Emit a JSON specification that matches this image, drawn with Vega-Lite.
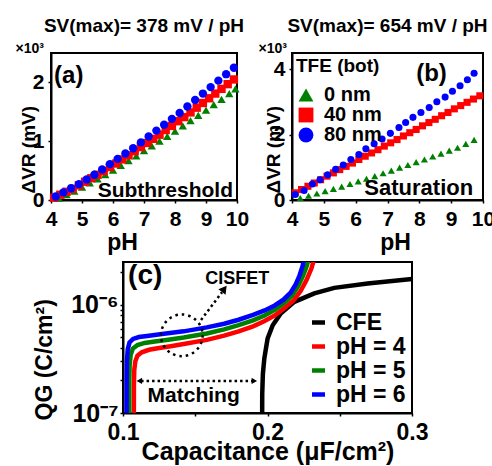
{
"$schema": "https://vega.github.io/schema/vega-lite/v6.json",
"autosize": {"type": "pad"},
"padding": {"left": 14, "top": 16, "right": 0, "bottom": 0},
"config": {
 "font": "Liberation Sans",
 "view": {"stroke": "#000", "strokeWidth": 2},
 "axis": {"grid": false, "domainColor": "#000", "domainWidth": 2, "tickColor": "#000", "tickWidth": 1.5, "tickSize": 3, "labelColor": "#000", "labelFont": "Liberation Sans", "labelFontWeight": "bold", "labelFontSize": 21, "labelOverlap": false, "labelFlush": false, "titleColor": "#000", "titleFont": "Liberation Sans", "titleFontWeight": "bold", "labelPadding": 4},
 "title": {"font": "Liberation Sans", "fontWeight": "bold", "fontSize": 19, "color": "#000", "frame": "group", "anchor": "middle"},
 "legend": {"labelFont": "Liberation Sans", "labelFontWeight": "bold", "labelColor": "#000", "titleFont": "Liberation Sans", "titleFontWeight": "bold", "titleColor": "#000"},
 "text": {"font": "Liberation Sans", "fontWeight": "bold", "color": "#000"}
},
"datasets": {
 "pa": [
  {"t":"0 nm","pH":4.25,"dv":0.03},{"t":"0 nm","pH":4.5,"dv":0.09},{"t":"0 nm","pH":4.75,"dv":0.15},{"t":"0 nm","pH":5.0,"dv":0.22},{"t":"0 nm","pH":5.25,"dv":0.29},{"t":"0 nm","pH":5.5,"dv":0.36},{"t":"0 nm","pH":5.75,"dv":0.43},{"t":"0 nm","pH":6.0,"dv":0.51},{"t":"0 nm","pH":6.25,"dv":0.59},{"t":"0 nm","pH":6.5,"dv":0.67},{"t":"0 nm","pH":6.75,"dv":0.75},{"t":"0 nm","pH":7.0,"dv":0.84},{"t":"0 nm","pH":7.25,"dv":0.92},{"t":"0 nm","pH":7.5,"dv":1.0},{"t":"0 nm","pH":7.75,"dv":1.08},{"t":"0 nm","pH":8.0,"dv":1.17},{"t":"0 nm","pH":8.25,"dv":1.26},{"t":"0 nm","pH":8.5,"dv":1.35},{"t":"0 nm","pH":8.75,"dv":1.44},{"t":"0 nm","pH":9.0,"dv":1.53},{"t":"0 nm","pH":9.25,"dv":1.62},{"t":"0 nm","pH":9.5,"dv":1.71},{"t":"0 nm","pH":9.75,"dv":1.81},{"t":"0 nm","pH":9.95,"dv":1.89},
  {"t":"40 nm","pH":4.1,"dv":0.04},{"t":"40 nm","pH":4.3,"dv":0.09},{"t":"40 nm","pH":4.5,"dv":0.14},{"t":"40 nm","pH":4.7,"dv":0.19},{"t":"40 nm","pH":4.9,"dv":0.25},{"t":"40 nm","pH":5.1,"dv":0.31},{"t":"40 nm","pH":5.3,"dv":0.37},{"t":"40 nm","pH":5.5,"dv":0.43},{"t":"40 nm","pH":5.7,"dv":0.49},{"t":"40 nm","pH":5.9,"dv":0.56},{"t":"40 nm","pH":6.1,"dv":0.62},{"t":"40 nm","pH":6.3,"dv":0.69},{"t":"40 nm","pH":6.5,"dv":0.76},{"t":"40 nm","pH":6.7,"dv":0.83},{"t":"40 nm","pH":6.9,"dv":0.9},{"t":"40 nm","pH":7.1,"dv":0.97},{"t":"40 nm","pH":7.3,"dv":1.04},{"t":"40 nm","pH":7.5,"dv":1.11},{"t":"40 nm","pH":7.7,"dv":1.19},{"t":"40 nm","pH":7.9,"dv":1.26},{"t":"40 nm","pH":8.1,"dv":1.34},{"t":"40 nm","pH":8.3,"dv":1.41},{"t":"40 nm","pH":8.5,"dv":1.49},{"t":"40 nm","pH":8.7,"dv":1.57},{"t":"40 nm","pH":8.9,"dv":1.65},{"t":"40 nm","pH":9.1,"dv":1.73},{"t":"40 nm","pH":9.3,"dv":1.81},{"t":"40 nm","pH":9.5,"dv":1.89},{"t":"40 nm","pH":9.7,"dv":1.97},{"t":"40 nm","pH":9.9,"dv":2.05},
  {"t":"80 nm","pH":4.15,"dv":0.06},{"t":"80 nm","pH":4.4,"dv":0.13},{"t":"80 nm","pH":4.65,"dv":0.2},{"t":"80 nm","pH":4.9,"dv":0.27},{"t":"80 nm","pH":5.15,"dv":0.35},{"t":"80 nm","pH":5.4,"dv":0.43},{"t":"80 nm","pH":5.65,"dv":0.52},{"t":"80 nm","pH":5.9,"dv":0.61},{"t":"80 nm","pH":6.15,"dv":0.7},{"t":"80 nm","pH":6.4,"dv":0.79},{"t":"80 nm","pH":6.65,"dv":0.88},{"t":"80 nm","pH":6.9,"dv":0.98},{"t":"80 nm","pH":7.15,"dv":1.08},{"t":"80 nm","pH":7.4,"dv":1.18},{"t":"80 nm","pH":7.65,"dv":1.28},{"t":"80 nm","pH":7.9,"dv":1.38},{"t":"80 nm","pH":8.15,"dv":1.48},{"t":"80 nm","pH":8.4,"dv":1.59},{"t":"80 nm","pH":8.65,"dv":1.7},{"t":"80 nm","pH":8.9,"dv":1.81},{"t":"80 nm","pH":9.15,"dv":1.92},{"t":"80 nm","pH":9.4,"dv":2.03},{"t":"80 nm","pH":9.65,"dv":2.14},{"t":"80 nm","pH":9.9,"dv":2.25}
 ],
 "pb": [
  {"t":"0 nm","pH":4.26,"dv":0.06},{"t":"0 nm","pH":4.52,"dv":0.13},{"t":"0 nm","pH":4.78,"dv":0.2},{"t":"0 nm","pH":5.04,"dv":0.27},{"t":"0 nm","pH":5.3,"dv":0.34},{"t":"0 nm","pH":5.56,"dv":0.41},{"t":"0 nm","pH":5.82,"dv":0.49},{"t":"0 nm","pH":6.08,"dv":0.57},{"t":"0 nm","pH":6.34,"dv":0.65},{"t":"0 nm","pH":6.6,"dv":0.73},{"t":"0 nm","pH":6.86,"dv":0.82},{"t":"0 nm","pH":7.12,"dv":0.9},{"t":"0 nm","pH":7.38,"dv":0.99},{"t":"0 nm","pH":7.64,"dv":1.07},{"t":"0 nm","pH":7.9,"dv":1.16},{"t":"0 nm","pH":8.16,"dv":1.24},{"t":"0 nm","pH":8.42,"dv":1.33},{"t":"0 nm","pH":8.68,"dv":1.42},{"t":"0 nm","pH":8.94,"dv":1.51},{"t":"0 nm","pH":9.2,"dv":1.6},{"t":"0 nm","pH":9.46,"dv":1.72},{"t":"0 nm","pH":9.72,"dv":1.84},
  {"t":"40 nm","pH":4.1,"dv":0.22},{"t":"40 nm","pH":4.3,"dv":0.32},{"t":"40 nm","pH":4.5,"dv":0.42},{"t":"40 nm","pH":4.7,"dv":0.52},{"t":"40 nm","pH":4.9,"dv":0.62},{"t":"40 nm","pH":5.1,"dv":0.73},{"t":"40 nm","pH":5.3,"dv":0.83},{"t":"40 nm","pH":5.5,"dv":0.93},{"t":"40 nm","pH":5.7,"dv":1.03},{"t":"40 nm","pH":5.9,"dv":1.13},{"t":"40 nm","pH":6.1,"dv":1.24},{"t":"40 nm","pH":6.3,"dv":1.34},{"t":"40 nm","pH":6.5,"dv":1.44},{"t":"40 nm","pH":6.7,"dv":1.54},{"t":"40 nm","pH":6.9,"dv":1.65},{"t":"40 nm","pH":7.1,"dv":1.75},{"t":"40 nm","pH":7.3,"dv":1.85},{"t":"40 nm","pH":7.5,"dv":1.96},{"t":"40 nm","pH":7.7,"dv":2.06},{"t":"40 nm","pH":7.9,"dv":2.16},{"t":"40 nm","pH":8.1,"dv":2.27},{"t":"40 nm","pH":8.3,"dv":2.37},{"t":"40 nm","pH":8.5,"dv":2.47},{"t":"40 nm","pH":8.7,"dv":2.58},{"t":"40 nm","pH":8.9,"dv":2.68},{"t":"40 nm","pH":9.1,"dv":2.79},{"t":"40 nm","pH":9.3,"dv":2.89},{"t":"40 nm","pH":9.5,"dv":2.99},{"t":"40 nm","pH":9.7,"dv":3.09},{"t":"40 nm","pH":9.9,"dv":3.19},
  {"t":"80 nm","pH":4.1,"dv":0.17},{"t":"80 nm","pH":4.38,"dv":0.29},{"t":"80 nm","pH":4.64,"dv":0.49},{"t":"80 nm","pH":4.88,"dv":0.62},{"t":"80 nm","pH":5.12,"dv":0.77},{"t":"80 nm","pH":5.37,"dv":0.94},{"t":"80 nm","pH":5.61,"dv":1.07},{"t":"80 nm","pH":5.85,"dv":1.24},{"t":"80 nm","pH":6.1,"dv":1.39},{"t":"80 nm","pH":6.32,"dv":1.57},{"t":"80 nm","pH":6.58,"dv":1.72},{"t":"80 nm","pH":6.83,"dv":1.87},{"t":"80 nm","pH":7.09,"dv":2.04},{"t":"80 nm","pH":7.36,"dv":2.22},{"t":"80 nm","pH":7.57,"dv":2.37},{"t":"80 nm","pH":7.8,"dv":2.53},{"t":"80 nm","pH":8.05,"dv":2.68},{"t":"80 nm","pH":8.31,"dv":2.83},{"t":"80 nm","pH":8.55,"dv":3.01},{"t":"80 nm","pH":8.81,"dv":3.15},{"t":"80 nm","pH":9.04,"dv":3.33},{"t":"80 nm","pH":9.28,"dv":3.5},{"t":"80 nm","pH":9.51,"dv":3.68},{"t":"80 nm","pH":9.72,"dv":3.88}
 ],
 "pc": [
  {"s":"CFE","cap":0.1963,"q":0.9e-7},{"s":"CFE","cap":0.19635,"q":1.5e-7},{"s":"CFE","cap":0.1968,"q":2.3e-7},{"s":"CFE","cap":0.1978,"q":3.2e-7},{"s":"CFE","cap":0.199,"q":4.0e-7},{"s":"CFE","cap":0.2001,"q":4.9e-7},{"s":"CFE","cap":0.2036,"q":6.5e-7},{"s":"CFE","cap":0.2093,"q":8.4e-7},{"s":"CFE","cap":0.2186,"q":1.07e-6},{"s":"CFE","cap":0.2324,"q":1.28e-6},{"s":"CFE","cap":0.2462,"q":1.44e-6},{"s":"CFE","cap":0.2693,"q":1.58e-6},{"s":"CFE","cap":0.3,"q":1.74e-6},
  {"s":"pH = 4","cap":0.1075,"q":0.9e-7},{"s":"pH = 4","cap":0.10755,"q":1.8e-7},{"s":"pH = 4","cap":0.1078,"q":2.5e-7},{"s":"pH = 4","cap":0.1085,"q":3.0e-7},{"s":"pH = 4","cap":0.11,"q":3.4e-7},{"s":"pH = 4","cap":0.113,"q":3.65e-7},{"s":"pH = 4","cap":0.118,"q":3.85e-7},{"s":"pH = 4","cap":0.125,"q":4.0e-7},{"s":"pH = 4","cap":0.133,"q":4.15e-7},{"s":"pH = 4","cap":0.142,"q":4.35e-7},{"s":"pH = 4","cap":0.158,"q":4.75e-7},{"s":"pH = 4","cap":0.17,"q":5.2e-7},{"s":"pH = 4","cap":0.18,"q":5.7e-7},{"s":"pH = 4","cap":0.19,"q":6.35e-7},{"s":"pH = 4","cap":0.198,"q":7.1e-7},{"s":"pH = 4","cap":0.205,"q":8.0e-7},{"s":"pH = 4","cap":0.211,"q":9.2e-7},{"s":"pH = 4","cap":0.218,"q":1.1e-6},{"s":"pH = 4","cap":0.223,"q":1.35e-6},{"s":"pH = 4","cap":0.227,"q":1.7e-6},{"s":"pH = 4","cap":0.2305,"q":2.2e-6},{"s":"pH = 4","cap":0.232,"q":2.6e-6},
  {"s":"pH = 5","cap":0.1043,"q":0.9e-7},{"s":"pH = 5","cap":0.10435,"q":2.0e-7},{"s":"pH = 5","cap":0.1046,"q":2.8e-7},{"s":"pH = 5","cap":0.1053,"q":3.45e-7},{"s":"pH = 5","cap":0.1068,"q":3.95e-7},{"s":"pH = 5","cap":0.11,"q":4.25e-7},{"s":"pH = 5","cap":0.115,"q":4.45e-7},{"s":"pH = 5","cap":0.122,"q":4.6e-7},{"s":"pH = 5","cap":0.13,"q":4.75e-7},{"s":"pH = 5","cap":0.142,"q":5.0e-7},{"s":"pH = 5","cap":0.158,"q":5.45e-7},{"s":"pH = 5","cap":0.17,"q":5.95e-7},{"s":"pH = 5","cap":0.18,"q":6.5e-7},{"s":"pH = 5","cap":0.19,"q":7.2e-7},{"s":"pH = 5","cap":0.198,"q":8.0e-7},{"s":"pH = 5","cap":0.205,"q":9.0e-7},{"s":"pH = 5","cap":0.211,"q":1.03e-6},{"s":"pH = 5","cap":0.217,"q":1.22e-6},{"s":"pH = 5","cap":0.221,"q":1.48e-6},{"s":"pH = 5","cap":0.2245,"q":1.85e-6},{"s":"pH = 5","cap":0.2272,"q":2.3e-6},{"s":"pH = 5","cap":0.2285,"q":2.7e-6},
  {"s":"pH = 6","cap":0.1025,"q":0.9e-7},{"s":"pH = 6","cap":0.10255,"q":2.0e-7},{"s":"pH = 6","cap":0.1027,"q":3.0e-7},{"s":"pH = 6","cap":0.1033,"q":3.9e-7},{"s":"pH = 6","cap":0.1045,"q":4.5e-7},{"s":"pH = 6","cap":0.107,"q":4.85e-7},{"s":"pH = 6","cap":0.111,"q":5.05e-7},{"s":"pH = 6","cap":0.118,"q":5.2e-7},{"s":"pH = 6","cap":0.127,"q":5.38e-7},{"s":"pH = 6","cap":0.142,"q":5.7e-7},{"s":"pH = 6","cap":0.158,"q":6.2e-7},{"s":"pH = 6","cap":0.17,"q":6.7e-7},{"s":"pH = 6","cap":0.18,"q":7.3e-7},{"s":"pH = 6","cap":0.19,"q":8.1e-7},{"s":"pH = 6","cap":0.198,"q":8.9e-7},{"s":"pH = 6","cap":0.205,"q":9.9e-7},{"s":"pH = 6","cap":0.211,"q":1.12e-6},{"s":"pH = 6","cap":0.216,"q":1.3e-6},{"s":"pH = 6","cap":0.2195,"q":1.55e-6},{"s":"pH = 6","cap":0.222,"q":1.85e-6},{"s":"pH = 6","cap":0.2243,"q":2.3e-6},{"s":"pH = 6","cap":0.2255,"q":2.7e-6}
 ]
},
"spacing": 4,
"resolve": {"scale": {"color": "independent", "shape": "independent"}, "legend": {"color": "independent", "shape": "independent"}},
"vconcat": [
 {
  "hconcat": [
   {
    "width": 186, "height": 147,
    "title": {"text": "SV(max)= 378 mV / pH", "offset": 5},
    "layer": [
     {
      "data": {"name": "pa"},
      "mark": {"type": "point", "filled": true, "opacity": 1, "size": 70},
      "encoding": {
       "x": {"field": "pH", "type": "quantitative", "scale": {"domain": [4, 10], "nice": false}, "axis": {"values": [4,5,6,7,8,9,10], "format": "d", "title": "pH", "titleFontSize": 23, "titleX": 71, "titleY": 49, "titleBaseline": "alphabetic", "labelPadding": 5}},
       "y": {"field": "dv", "type": "quantitative", "scale": {"domain": [0, 2.5], "nice": false}, "axis": {"values": [0,1,2], "format": "d", "title": "ΔVR (mV)", "titleFontSize": 19, "titleX": -17, "titleY": 140, "titleAlign": "left", "titleAngle": -90, "titleBaseline": "alphabetic"}},
       "color": {"field": "t", "type": "nominal", "scale": {"domain": ["0 nm","40 nm","80 nm"], "range": ["#008000","#ff0000","#0000ff"]}, "legend": null},
       "shape": {"field": "t", "type": "nominal", "scale": {"domain": ["0 nm","40 nm","80 nm"], "range": ["triangle-up","square","circle"]}, "legend": null}
      }
     },
     {
      "data": {"values": [{"label": "(a)", "x": 4.1, "y": 2.11}]},
      "mark": {"type": "text", "align": "left", "baseline": "middle", "fontSize": 24},
      "encoding": {
       "x": {"field": "x", "type": "quantitative", "axis": {"orient": "top", "title": "×10³", "labels": false, "ticks": false, "domain": false, "titleFontSize": 14, "titleX": -36, "titleY": -1, "titleAlign": "left", "titleBaseline": "alphabetic", "titleAngle": 0}},
       "y": {"field": "y", "type": "quantitative"},
       "text": {"field": "label"}
      }
     },
     {
      "data": {"values": [{"label": "Subthreshold", "x": 9.87, "y": 0.05}]},
      "mark": {"type": "text", "align": "right", "baseline": "alphabetic", "fontSize": 21},
      "encoding": {
       "x": {"field": "x", "type": "quantitative", "axis": null},
       "y": {"field": "y", "type": "quantitative"},
       "text": {"field": "label"}
      }
     }
    ],
    "resolve": {"axis": {"x": "independent"}}
   },
   {
    "width": 191, "height": 147,
    "title": {"text": "SV(max)= 654 mV / pH", "offset": 5},
    "layer": [
     {
      "data": {"name": "pb"},
      "mark": {"type": "point", "filled": true, "opacity": 1, "size": 50},
      "encoding": {
       "x": {"field": "pH", "type": "quantitative", "scale": {"domain": [4, 10], "nice": false}, "axis": {"values": [4,5,6,7,8,9,10], "format": "d", "title": "pH", "titleFontSize": 23, "titleX": 103, "titleY": 49, "titleBaseline": "alphabetic", "labelPadding": 5}},
       "y": {"field": "dv", "type": "quantitative", "scale": {"domain": [0, 4.5], "nice": false}, "axis": {"values": [0,2,4], "format": "d", "title": "ΔVR (mV)", "titleFontSize": 19, "titleX": -13, "titleY": 140, "titleAlign": "left", "titleAngle": -90, "titleBaseline": "alphabetic"}},
       "color": {"field": "t", "type": "nominal", "scale": {"domain": ["0 nm","40 nm","80 nm"], "range": ["#008000","#ff0000","#0000ff"]}, "legend": {"orient": "top-left", "title": "TFE (bot)", "offset": 4, "padding": 0, "titleFontSize": 19, "labelFontSize": 20, "symbolSize": 220, "titlePadding": 9, "rowPadding": 0, "labelOffset": 8, "symbolStrokeWidth": 0}},
       "shape": {"field": "t", "type": "nominal", "scale": {"domain": ["0 nm","40 nm","80 nm"], "range": ["triangle-up","square","circle"]}, "legend": {"orient": "top-left", "title": "TFE (bot)", "offset": 4, "padding": 0, "titleFontSize": 19, "labelFontSize": 20, "symbolSize": 220, "titlePadding": 9, "rowPadding": 0, "labelOffset": 8, "symbolStrokeWidth": 0}}
      }
     },
     {
      "data": {"values": [{"label": "(b)", "x": 7.9, "y": 3.85}]},
      "mark": {"type": "text", "align": "left", "baseline": "middle", "fontSize": 24},
      "encoding": {
       "x": {"field": "x", "type": "quantitative", "axis": {"orient": "top", "title": "×10³", "labels": false, "ticks": false, "domain": false, "titleFontSize": 14, "titleX": -34, "titleY": -1, "titleAlign": "left", "titleBaseline": "alphabetic", "titleAngle": 0}},
       "y": {"field": "y", "type": "quantitative"},
       "text": {"field": "label"}
      }
     },
     {
      "data": {"values": [{"label": "Saturation", "x": 9.69, "y": 0.15}]},
      "mark": {"type": "text", "align": "right", "baseline": "alphabetic", "fontSize": 22},
      "encoding": {
       "x": {"field": "x", "type": "quantitative", "axis": null},
       "y": {"field": "y", "type": "quantitative"},
       "text": {"field": "label"}
      }
     }
    ],
    "resolve": {"axis": {"x": "independent"}}
   }
  ],
  "spacing": 55,
  "bounds": "flush",
  "resolve": {"scale": {"color": "independent", "shape": "independent"}, "legend": {"color": "independent", "shape": "independent"}}
 },
 {
  "hconcat": [
   {
    "width": 72, "height": 10,
    "view": {"stroke": null},
    "data": {"values": []},
    "mark": "point"
   },
   {
    "width": 289, "height": 151,
    "layer": [
     {
      "data": {"name": "pc"},
      "mark": {"type": "line", "strokeWidth": 4.5, "clip": true},
      "encoding": {
       "x": {"field": "cap", "type": "quantitative", "scale": {"domain": [0.1, 0.3], "nice": false, "zero": false}, "axis": {"values": [0.1, 0.15, 0.2, 0.25, 0.3], "labelExpr": "datum.value == 0.15 || datum.value == 0.25 ? '' : format(datum.value, '.1f')", "labelFontSize": 23, "labelPadding": 5, "title": "Capacitance (μF/cm²)", "titleFontSize": 25, "titleY": 46, "titleBaseline": "alphabetic"}},
       "y": {"field": "q", "type": "quantitative", "scale": {"type": "log", "domain": [1e-7, 2.5e-6], "nice": false}, "axis": {"values": [1e-7, 2e-7, 3e-7, 4e-7, 5e-7, 6e-7, 7e-7, 8e-7, 9e-7, 1e-6, 2e-6], "labelExpr": "datum.value == 1e-7 ? '10⁻⁷' : (datum.value == 1e-6 ? '10⁻⁶' : '')", "labelFontSize": 25, "labelPadding": 2, "title": "QG (C/cm²)", "titleFontSize": 23, "titleX": -72, "titleY": 158, "titleAlign": "left", "titleAngle": -90, "titleBaseline": "alphabetic"}},
       "color": {"field": "s", "type": "nominal", "scale": {"domain": ["CFE","pH = 4","pH = 5","pH = 6"], "range": ["#000000","#ff0000","#008000","#0000ff"]}, "legend": {"orient": "bottom-right", "title": null, "offset": 6, "padding": 0, "labelFontSize": 23, "symbolType": "stroke", "symbolSize": 170, "symbolStrokeWidth": 4.5, "rowPadding": 0, "labelOffset": 6}}
      }
     },
     {
      "data": {"values": [{"seg": "m", "x": 0.1125, "y": 1.98e-7}, {"seg": "m", "x": 0.1895, "y": 1.98e-7}, {"seg": "i", "x": 0.154, "y": 7.26e-7}, {"seg": "i", "x": 0.1685, "y": 1.31e-6}]},
      "mark": {"type": "line", "color": "#000", "strokeWidth": 2.5, "strokeDash": [2.5, 3]},
      "encoding": {"x": {"field": "x", "type": "quantitative"}, "y": {"field": "y", "type": "quantitative"}, "detail": {"field": "seg"}}
     },
     {
      "data": {"values": [{"x": 0.1113, "y": 1.98e-7}]},
      "mark": {"type": "point", "shape": "triangle-left", "filled": true, "color": "#000", "opacity": 1, "size": 40},
      "encoding": {"x": {"field": "x", "type": "quantitative"}, "y": {"field": "y", "type": "quantitative"}}
     },
     {
      "data": {"values": [{"x": 0.1909, "y": 1.98e-7}]},
      "mark": {"type": "point", "shape": "triangle-right", "filled": true, "color": "#000", "opacity": 1, "size": 40},
      "encoding": {"x": {"field": "x", "type": "quantitative"}, "y": {"field": "y", "type": "quantitative"}}
     },
     {
      "data": {"values": [{"x": 0.1701, "y": 1.41e-6}]},
      "mark": {"type": "point", "shape": "triangle-up", "angle": 37, "filled": true, "color": "#000", "opacity": 1, "size": 80},
      "encoding": {"x": {"field": "x", "type": "quantitative"}, "y": {"field": "y", "type": "quantitative"}}
     },
     {
      "data": {"values": [{"x": 0.1407, "y": 5.24e-7}]},
      "mark": {"type": "point", "shape": "circle", "filled": false, "color": "#000", "opacity": 1, "size": 1735, "strokeWidth": 2.5, "strokeDash": [2.5, 4]},
      "encoding": {"x": {"field": "x", "type": "quantitative"}, "y": {"field": "y", "type": "quantitative"}}
     },
     {
      "data": {"values": [{"label": "(c)", "x": 0.1035, "y": 1.86e-6}]},
      "mark": {"type": "text", "align": "left", "baseline": "middle", "fontSize": 28},
      "encoding": {"x": {"field": "x", "type": "quantitative"}, "y": {"field": "y", "type": "quantitative"}, "text": {"field": "label"}}
     },
     {
      "data": {"values": [{"label": "CISFET", "x": 0.157, "y": 1.55e-6}]},
      "mark": {"type": "text", "align": "left", "baseline": "alphabetic", "fontSize": 18},
      "encoding": {"x": {"field": "x", "type": "quantitative"}, "y": {"field": "y", "type": "quantitative"}, "text": {"field": "label"}}
     },
     {
      "data": {"values": [{"label": "Matching", "x": 0.1489, "y": 1.27e-7}]},
      "mark": {"type": "text", "align": "center", "baseline": "alphabetic", "fontSize": 21},
      "encoding": {"x": {"field": "x", "type": "quantitative"}, "y": {"field": "y", "type": "quantitative"}, "text": {"field": "label"}}
     }
    ]
   }
  ],
  "spacing": 0,
  "bounds": "flush",
  "resolve": {"scale": {"color": "independent", "shape": "independent"}, "legend": {"color": "independent", "shape": "independent"}}
 }
]
}
